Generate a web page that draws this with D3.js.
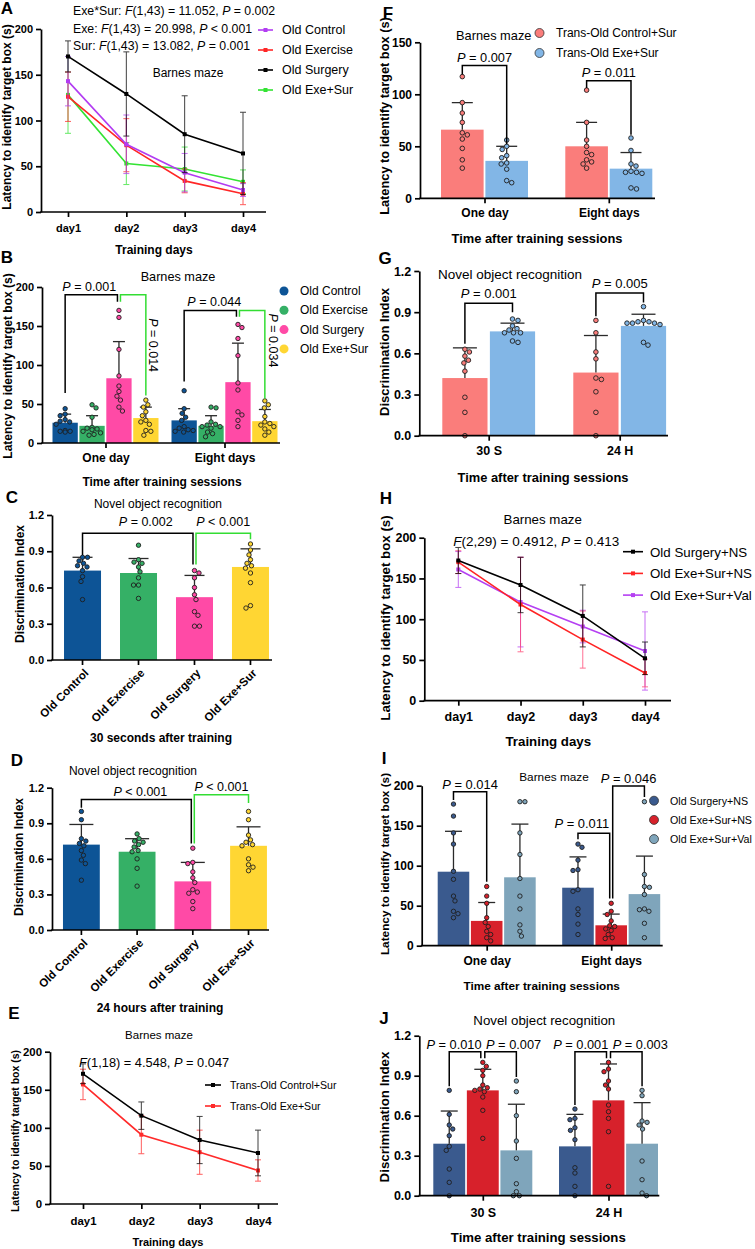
<!DOCTYPE html>
<html><head><meta charset="utf-8">
<script src="https://cdn.jsdelivr.net/npm/d3@7"></script>
<style>
body{margin:0;background:#fff;}
svg{display:block;font-family:"Liberation Sans",Arial,Helvetica,sans-serif;}
</style></head><body>
<svg id="chart" width="755" height="1249"></svg>
<script>
// ================= DATA =================
// Panel A
const A_days = ["day1","day2","day3","day4"];
const A_names = ["Old Control","Old Exercise","Old Surgery","Old Exe+Sur"];
const A_oldControl = [143, 74, 43, 24];
const A_oldControlSD = [27, 32, 21, 7];
const A_oldExercise = [126, 73, 34, 20];
const A_oldExerciseSD = [27, 29, 13, 12];
const A_oldSurgery = [170, 129, 85, 64];
const A_oldSurgerySD = [17, 46, 42, 45];
const A_oldExeSur = [128, 53, 47, 33];
const A_oldExeSurSD = [42, 23, 24, 13];
const A_yTicks = [0, 50, 100, 150, 200];
const A_stats = ["Exe*Sur: F(1,43) = 11.052, P = 0.002", "Exe: F(1,43) = 20.998, P < 0.001", "Sur: F(1,43) = 13.082, P = 0.001"];

// Panel B
const B_groups = ["One day", "Eight days"];
const B_names = ["Old Control", "Old Exercise", "Old Surgery", "Old Exe+Sur"];
const B_oldControlMean = [26, 29];
const B_oldControlSD = [11, 15];
const B_oldControlPts = [[44,37,35,30,28,27,24,16,15,15,14],[67,44,38,33,29,21,19,17,16,15,14]];
const B_oldExerciseMean = [22, 22];
const B_oldExerciseSD = [13, 13];
const B_oldExercisePts = [[49,45,33,20,19,18,17,15,13,11,10],[46,45,27,24,23,21,21,19,14,12,8]];
const B_oldSurgeryMean = [83, 78];
const B_oldSurgerySD = [47, 50];
const B_oldSurgeryPts = [[170,161,120,86,73,66,60,55,46,41],[152,148,134,112,77,68,40,36,29,21]];
const B_oldExeSurMean = [32, 28];
const B_oldExeSurSD = [14, 15];
const B_oldExeSurPts = [[55,49,46,40,35,29,27,24,16,15,10],[54,49,45,34,27,25,23,21,18,14,10]];
const B_yTicks = [0, 50, 100, 150, 200];

// Panel C (30 s after training)
const C_cats = ["Old Control", "Old Exercise", "Old Surgery", "Old Exe+Sur"];
const C_means = [0.74, 0.72, 0.52, 0.77];
const C_sd = [0.11, 0.12, 0.18, 0.15];
const C_oldControlPts = [0.85,0.85,0.82,0.80,0.78,0.77,0.74,0.69,0.65,0.50];
const C_oldExercisePts = [0.95,0.83,0.81,0.80,0.77,0.73,0.68,0.62,0.62,0.51];
const C_oldSurgeryPts = [0.74,0.72,0.68,0.60,0.54,0.50,0.40,0.37,0.28,0.28];
const C_oldExeSurPts = [0.96,0.91,0.87,0.83,0.80,0.78,0.76,0.72,0.64,0.45,0.43];
const DI_ticks = [0, 0.3, 0.6, 0.9, 1.2];

// Panel D (24 h after training)
const D_cats = ["Old Control", "Old Exercise", "Old Surgery", "Old Exe+Sur"];
const D_means = [0.72, 0.66, 0.41, 0.71];
const D_sd = [0.17, 0.11, 0.16, 0.16];
const D_oldControlPts = [1.0,0.93,0.77,0.75,0.73,0.71,0.67,0.63,0.59,0.56,0.42];
const D_oldExercisePts = [0.81,0.77,0.75,0.74,0.72,0.70,0.67,0.66,0.60,0.52,0.37];
const D_oldSurgeryPts = [0.69,0.57,0.56,0.49,0.44,0.40,0.34,0.32,0.31,0.24,0.18];
const D_oldExeSurPts = [1.0,0.93,0.80,0.76,0.74,0.72,0.71,0.60,0.55,0.53,0.50];

// Panel E
const E_days = ["day1","day2","day3","day4"];
const E_names = ["Trans-Old Control+Sur", "Trans-Old Exe+Sur"];
const E_transControl = [171, 116, 84, 67];
const E_transControlSD = [13, 18, 31, 30];
const E_transExe = [157, 91, 68, 44];
const E_transExeSD = [20, 25, 29, 14];
const E_yTicks = [0, 50, 100, 150, 200];

// Panel F
const F_groups = ["One day", "Eight days"];
const F_names = ["Trans-Old Control+Sur", "Trans-Old Exe+Sur"];
const F_controlMean = [66, 50];
const F_controlSD = [26, 23];
const F_controlPts = [[117,92,82,73,63,61,57,48,37,29],[104,73,56,50,44,42,37,35,33,29]];
const F_exeMean = [36, 28.5];
const F_exeSD = [14, 15.5];
const F_exePts = [[56,50,47,41,39,34,33,28,17,15],[58,46,33,31,26,25,25,24,10,9]];
const F_yTicks = [0, 50, 100, 150];

// Panel G
const G_groups = ["30 S", "24 H"];
const G_controlMean = [0.42, 0.46];
const G_controlSD = [0.22, 0.27];
const G_controlPts = [[0.63,0.61,0.58,0.55,0.53,0.47,0.28,0.17,0.0],[0.84,0.75,0.61,0.56,0.42,0.41,0.32,0.17,0.0]];
const G_exeMean = [0.76, 0.80];
const G_exeSD = [0.06, 0.085];
const G_exePts = [[0.85,0.84,0.80,0.78,0.77,0.75,0.75,0.75,0.69,0.68],[0.94,0.84,0.83,0.83,0.82,0.82,0.82,0.81,0.68,0.66]];

// Panel H
const H_days = ["day1","day2","day3","day4"];
const H_names = ["Old Surgery+NS", "Old Exe+Sur+NS", "Old Exe+Sur+Val"];
const H_surgeryNS = [172, 142, 104, 52];
const H_surgeryNSSD = [16, 34, 38, 20];
const H_exeSurNS = [170, 118, 75, 34];
const H_exeSurNSSD = [14, 58, 35, 17];
const H_exeSurVal = [161, 121, 91, 61];
const H_exeSurValSD = [22, 55, 20, 48];
const H_yTicks = [0, 50, 100, 150, 200];

// Panel I
const I_groups = ["One day", "Eight days"];
const I_names = ["Old Surgery+NS", "Old Exe+Sur+NS", "Old Exe+Sur+Val"];
const I_surgeryMean = [92.5, 72.5];
const I_surgerySD = [50.5, 38.5];
const I_surgeryPts = [[177,162,141,127,93,83,62,56,43,40,35],[127,123,107,95,94,70,68,46,39,27,14]];
const I_exeMean = [31, 25.5];
const I_exeSD = [23, 14];
const I_exePts = [[74,62,53,35,29,24,18,14,10,6],[53,43,39,31,25,24,21,19,14,10,9]];
const I_valMean = [85.5, 64.5];
const I_valSD = [66.5, 47.5];
const I_valPts = [[180,180,141,114,84,62,46,26,18,12],[180,89,74,73,64,46,45,43,28,10]];

// Panel J
const J_groups = ["30 S", "24 H"];
const J_surgeryMean = [0.39, 0.37];
const J_surgerySD = [0.245, 0.24];
const J_surgeryPts = [[0.79,0.61,0.53,0.50,0.45,0.37,0.34,0.20,0.10,0.0],[0.65,0.58,0.57,0.51,0.49,0.42,0.21,0.17,0.07,0.0]];
const J_exeMean = [0.79, 0.715];
const J_exeSD = [0.158, 0.273];
const J_exePts = [[1.0,0.97,0.94,0.90,0.83,0.81,0.80,0.79,0.78,0.74,0.64,0.43],[1.0,0.95,0.93,0.86,0.83,0.80,0.68,0.63,0.58,0.48,0.07]];
const J_valMean = [0.34, 0.39];
const J_valSD = [0.346, 0.308];
const J_valPts = [[0.86,0.78,0.60,0.41,0.28,0.09,0.03,0.0,0.0],[0.79,0.75,0.56,0.55,0.53,0.50,0.26,0.12,0.02,0.0]];

// ================= DRAWING =================
const svg = d3.select("#chart");
const FONT = '"Liberation Sans", Arial, Helvetica, sans-serif';
const COL = {
  blue: "#0d5496", green: "#35b066", pink: "#ff4aa6", yellow: "#ffd633",
  salmon: "#fa7d7b", sky: "#82b6e6",
  dblue: "#3a5a8e", red: "#d7212b", lblue: "#7fa5bb",
  lPurple: "#b23cf2", lRed: "#ff2626", lGreen: "#33e333"
};

function rich(t, str) {
  str.split(/(\bF(?=\()|\bP(?= [=<]))/).forEach((p, i) => {
    if (!p) return;
    const ts = t.append("tspan").text(p);
    if (i % 2 === 1) ts.attr("font-style", "italic");
  });
  return t;
}
function label(g, x, y, str, o = {}) {
  const t = g.append("text").attr("x", x).attr("y", y)
    .attr("font-size", o.size || 12)
    .attr("font-weight", o.bold ? "bold" : "normal")
    .attr("text-anchor", o.anchor || "middle")
    .attr("dominant-baseline", "central")
    .attr("font-family", FONT)
    .attr("fill", "#000");
  if (o.rotate) t.attr("transform", `rotate(${o.rotate},${x},${y})`);
  return rich(t, str);
}
function drawYAxis(g, y, x0, ticks, fmt, fs) {
  const a = g.append("g").attr("transform", `translate(${x0},0)`)
    .call(d3.axisLeft(y).tickValues(ticks).tickFormat(fmt).tickSize(5).tickSizeOuter(0).tickPadding(3));
  a.select(".domain").attr("stroke", "#000").attr("stroke-width", 1.7);
  a.selectAll(".tick line").attr("stroke", "#000").attr("stroke-width", 1.7);
  a.selectAll(".tick text").attr("font-size", fs).attr("font-weight", "bold").attr("font-family", FONT).attr("fill", "#000");
}
function drawXAxis(g, x, x0, x1, yb, fs, off) {
  g.append("line").attr("x1", x0 - 0.8).attr("x2", x1).attr("y1", yb).attr("y2", yb)
    .attr("stroke", "#000").attr("stroke-width", 1.7);
  const a = g.append("g").attr("transform", `translate(0,${yb})`)
    .call(d3.axisBottom(x).tickSize(5).tickSizeOuter(0));
  a.select(".domain").remove();
  a.selectAll(".tick line").attr("stroke", "#000").attr("stroke-width", 1.7);
  a.selectAll(".tick text").attr("font-size", fs).attr("font-weight", "bold").attr("font-family", FONT)
    .attr("fill", "#000").attr("y", off).attr("dy", null).attr("dominant-baseline", "central");
  return a;
}

function linePanel(p) {
  const g = svg.append("g");
  const x = d3.scalePoint().domain(p.days).range(p.xr);
  const y = d3.scaleLinear().domain([0, p.ymax]).range([p.yb, p.yt]);
  p.drawOrder.forEach(k => {
    const s = p.series[k];
    const eg = g.append("g").attr("stroke", s.err || s.color).attr("stroke-width", 1).attr("opacity", 0.75);
    s.m.forEach((m, i) => {
      const cx = x(p.days[i]);
      eg.append("line").attr("x1", cx).attr("x2", cx).attr("y1", y(m - s.sd[i])).attr("y2", y(m + s.sd[i]));
      [m - s.sd[i], m + s.sd[i]].forEach(v =>
        eg.append("line").attr("x1", cx - 3).attr("x2", cx + 3).attr("y1", y(v)).attr("y2", y(v)));
    });
    g.append("path").datum(s.m).attr("fill", "none").attr("stroke", s.color).attr("stroke-width", 1.6)
      .attr("d", d3.line().x((d, i) => x(p.days[i])).y(d => y(d)));
    g.selectAll(null).data(s.m).enter().append("rect")
      .attr("x", (d, i) => x(p.days[i]) - 2).attr("y", d => y(d) - 2)
      .attr("width", 4).attr("height", 4).attr("fill", s.color);
  });
  drawYAxis(g, y, p.x0, p.ticks, d3.format("d"), p.fs);
  drawXAxis(g, x, p.x0, p.x1, p.yb, p.fs, p.lo);
  // legend
  p.series.forEach((s, i) => {
    const ly = p.leg.y + i * p.leg.dy;
    g.append("line").attr("x1", p.leg.x).attr("x2", p.leg.x + p.leg.w).attr("y1", ly).attr("y2", ly)
      .attr("stroke", s.color).attr("stroke-width", 1.6);
    g.append("rect").attr("x", p.leg.x + p.leg.w / 2 - 2).attr("y", ly - 2).attr("width", 4).attr("height", 4).attr("fill", s.color);
    label(g, p.leg.tx, ly, s.name, { size: p.leg.fs, anchor: "start" });
  });
  return g;
}

function swarm(vals, y, r, maxOff) {
  const placed = [];
  const out = new Array(vals.length);
  const order = vals.map((v, i) => i).sort((a, b) => vals[b] - vals[a]);
  const d2 = (2 * r + 0.6) * (2 * r + 0.6);
  order.forEach((i, n) => {
    const py = y(vals[i]);
    const sgn = n % 2 === 0 ? 1 : -1;
    let chosen = null;
    for (let k = 0; k <= maxOff * 4; k++) {
      const off = (k % 2 === 0 ? sgn : -sgn) * Math.ceil(k / 2) * 0.5;
      if (Math.abs(off) > maxOff) continue;
      if (placed.every(q => (q.x - off) ** 2 + (q.y - py) ** 2 >= d2)) { chosen = off; break; }
    }
    if (chosen === null) chosen = 0;
    placed.push({ x: chosen, y: py });
    out[i] = chosen;
  });
  return out;
}

function barPanel(p) {
  const g = svg.append("g");
  const y = d3.scaleLinear().domain([0, p.ymax]).range([p.yb, p.yt]);
  const bars = [];
  let xs;
  if (p.groups) {
    xs = d3.scalePoint().domain(p.groups).range(p.gr);
    const sx = d3.scaleBand().domain(p.series.map(s => s.name)).range([-p.half, p.half]).paddingInner(p.pad);
    p.groups.forEach((gn, gi) => p.series.forEach((s, si) => bars.push({
      gi, si, x: xs(gn) + sx(s.name), w: sx.bandwidth(),
      m: s.mean[gi], sd: s.sd[gi], pts: s.pts[gi], color: s.color })));
  } else {
    xs = d3.scaleBand().domain(p.cats).range(p.br).paddingInner(0.339).paddingOuter(0.17);
    p.cats.forEach((c, ci) => bars.push({
      gi: ci, si: 0, x: xs(c), w: xs.bandwidth(),
      m: p.mean[ci], sd: p.sd[ci], pts: p.pts[ci], color: p.colors[ci] }));
  }
  g.selectAll(null).data(bars).enter().append("rect")
    .attr("x", d => d.x).attr("y", d => y(d.m)).attr("width", d => d.w)
    .attr("height", d => y(0) - y(d.m)).attr("fill", d => d.color);
  // error bars (upper SD)
  bars.forEach(b => {
    const cx = b.x + b.w / 2;
    g.append("line").attr("x1", cx).attr("x2", cx).attr("y1", y(b.m)).attr("y2", y(b.m + b.sd))
      .attr("stroke", "#2a2a2a").attr("stroke-width", 1.3);
    g.append("line").attr("x1", cx - p.cap / 2).attr("x2", cx + p.cap / 2).attr("y1", y(b.m + b.sd)).attr("y2", y(b.m + b.sd))
      .attr("stroke", "#2a2a2a").attr("stroke-width", 1.3);
  });
  // points
  bars.forEach(b => {
    const cx = b.x + b.w / 2;
    const offs = swarm(b.pts, y, p.r, b.w / 2 - p.r - 1);
    g.selectAll(null).data(b.pts).enter().append("circle")
      .attr("cx", (d, i) => cx + offs[i]).attr("cy", d => y(d)).attr("r", p.r)
      .attr("fill", b.color).attr("stroke", "#1e1e1e").attr("stroke-width", 0.9);
  });
  drawYAxis(g, y, p.x0, p.ticks, p.fmt, p.fs);
  const ax = drawXAxis(g, xs, p.x0, p.x1, p.yb, p.cfs, p.lo);
  if (!p.groups) {
    ax.selectAll(".tick text").attr("y", null).attr("x", null).attr("text-anchor", "end")
      .attr("transform", "translate(4,11) rotate(-45)");
  }
  // brackets
  const barAt = (gi, si) => bars.find(b => b.gi === gi && b.si === si);
  (p.brackets || []).forEach(k => {
    const A = barAt(k.a[0], k.a[1]), B = barAt(k.b[0], k.b[1]);
    const xa = A.x + A.w / 2 + (k.a[2] || 0), xb = B.x + B.w / 2 + (k.b[2] || 0);
    g.append("path").attr("fill", "none").attr("stroke", k.color || "#000").attr("stroke-width", 1.5)
      .attr("d", `M${xa},${y(k.l1)}V${y(k.top)}H${xb}V${y(k.l2)}`);
    if (k.vertical) {
      label(g, xb + k.vx, (y(k.top) + y(k.l2)) / 2 + (k.dy || 0), k.text, { size: p.sfs, rotate: 90 });
    } else {
      label(g, (xa + xb) / 2 + (k.dx || 0), y(k.top) - p.sgap + (k.dy || 0), k.text, { size: p.sfs });
    }
  });
  return g;
}

function legendDots(g, items, x, y0, dy, tx, fs, r, stroke) {
  items.forEach((it, i) => {
    g.append("circle").attr("cx", x).attr("cy", y0 + i * dy).attr("r", r).attr("fill", it.color)
      .attr("stroke", stroke ? "#333" : "none").attr("stroke-width", 0.8);
    label(g, tx, y0 + i * dy, it.name, { size: fs, anchor: "start" });
  });
}

// ---------- Panel A ----------
const gA = linePanel({
  days: A_days, xr: [68, 243], x0: 41, x1: 266, yb: 212, yt: 29, ymax: 200, ticks: A_yTicks, fs: 11, lo: 16,
  series: [
    { name: A_names[0], color: COL.lPurple, m: A_oldControl, sd: A_oldControlSD },
    { name: A_names[1], color: COL.lRed, m: A_oldExercise, sd: A_oldExerciseSD },
    { name: A_names[2], color: "#000", m: A_oldSurgery, sd: A_oldSurgerySD },
    { name: A_names[3], color: COL.lGreen, m: A_oldExeSur, sd: A_oldExeSurSD }
  ],
  drawOrder: [3, 1, 0, 2],
  leg: { x: 258, w: 15, y: 30, dy: 20, tx: 282, fs: 12.5 }
});
A_stats.forEach((s, i) => label(gA, 73, 11 + i * 17.5, s, { size: 12.3, anchor: "start" }));
label(gA, 188, 73, "Barnes maze", { size: 12 });
label(gA, 154, 250, "Training days", { size: 12, bold: true });
label(gA, 7, 117, "Latency to identify target box (s)", { size: 12, bold: true, rotate: -90 });
label(gA, 7, 8, "A", { size: 17, bold: true });

// ---------- Panel B ----------
const bSeries = [
  { name: B_names[0], color: COL.blue, mean: B_oldControlMean, sd: B_oldControlSD, pts: B_oldControlPts },
  { name: B_names[1], color: COL.green, mean: B_oldExerciseMean, sd: B_oldExerciseSD, pts: B_oldExercisePts },
  { name: B_names[2], color: COL.pink, mean: B_oldSurgeryMean, sd: B_oldSurgerySD, pts: B_oldSurgeryPts },
  { name: B_names[3], color: COL.yellow, mean: B_oldExeSurMean, sd: B_oldExeSurSD, pts: B_oldExeSurPts }
];
const gB = barPanel({
  groups: B_groups, series: bSeries, gr: [105.5, 224.5], half: 53, pad: 0.06,
  x0: 42, x1: 280, yb: 443, yt: 287, ymax: 200, ticks: B_yTicks, fmt: d3.format("d"), fs: 11, cfs: 12, lo: 15,
  cap: 12, r: 2.2, sfs: 12.5, sgap: 8,
  brackets: [
    { a: [0, 0], b: [0, 2, -1.5], top: 190, l1: 64, l2: 181, text: "P = 0.001", dx: -2 },
    { a: [0, 2, 1.5], b: [0, 3], top: 190, l1: 181, l2: 61, text: "P = 0.014", color: "#33dd33", vertical: true, vx: 7 },
    { a: [1, 0], b: [1, 2, -1.5], top: 170, l1: 79, l2: 162, text: "P = 0.044", dx: 4 },
    { a: [1, 2, 1.5], b: [1, 3], top: 170, l1: 162, l2: 57, text: "P = 0.034", color: "#33dd33", vertical: true, vx: 8, dy: -14 }
  ]
});
legendDots(gB, bSeries, 284, 291, 19.3, 300, 12, 4.5, false);
label(gB, 178, 277, "Barnes maze", { size: 12.7 });
label(gB, 162, 481.7, "Time after training sessions", { size: 12, bold: true });
label(gB, 8, 366, "Latency to identify target box (s)", { size: 12, bold: true, rotate: -90 });
label(gB, 7, 257, "B", { size: 17, bold: true });

// ---------- Panel C ----------
const gC = barPanel({
  cats: C_cats, mean: C_means, sd: C_sd, pts: [C_oldControlPts, C_oldExercisePts, C_oldSurgeryPts, C_oldExeSurPts],
  colors: [COL.blue, COL.green, COL.pink, COL.yellow], br: [54.5, 278.5],
  x0: 52, x1: 272, yb: 660, yt: 515, ymax: 1.2, ticks: DI_ticks, fmt: d3.format(".1f"), fs: 11, cfs: 11.5, lo: 12,
  cap: 20, r: 2.2, sfs: 12.5, sgap: 11,
  brackets: [
    { a: [0, 0], b: [2, 0, -1.5], top: 1.05, l1: 0.87, l2: 0.79, text: "P = 0.002", dx: 8 },
    { a: [2, 0, 1.5], b: [3, 0], top: 1.05, l1: 0.79, l2: 1.0, text: "P < 0.001", color: "#33dd33" }
  ]
});
label(gC, 158, 504, "Novel object recognition", { size: 12 });
label(gC, 161, 738, "30 seconds after training", { size: 12, bold: true });
label(gC, 20, 584, "Discrimination Index", { size: 12, bold: true, rotate: -90 });
label(gC, 12, 497, "C", { size: 17, bold: true });

// ---------- Panel D ----------
const gD = barPanel({
  cats: D_cats, mean: D_means, sd: D_sd, pts: [D_oldControlPts, D_oldExercisePts, D_oldSurgeryPts, D_oldExeSurPts],
  colors: [COL.blue, COL.green, COL.pink, COL.yellow], br: [53.5, 276.4],
  x0: 52, x1: 269, yb: 930, yt: 787.7, ymax: 1.2, ticks: DI_ticks, fmt: d3.format(".1f"), fs: 11, cfs: 11.5, lo: 12,
  cap: 24, r: 2.2, sfs: 12.5, sgap: 8,
  brackets: [
    { a: [0, 0], b: [2, 0, -1.5], top: 1.1, l1: 1.03, l2: 0.73, text: "P < 0.001", dx: 4 },
    { a: [2, 0, 1.5], b: [3, 0], top: 1.14, l1: 0.73, l2: 1.07, text: "P < 0.001", color: "#33dd33" }
  ]
});
label(gD, 133, 771, "Novel object recognition", { size: 12 });
label(gD, 160, 1008, "24 hours after training", { size: 12, bold: true });
label(gD, 19, 857, "Discrimination Index", { size: 12, bold: true, rotate: -90 });
label(gD, 17, 760, "D", { size: 17, bold: true });

// ---------- Panel E ----------
const gE = linePanel({
  days: E_days, xr: [83, 258], x0: 50, x1: 278, yb: 1204, yt: 1051.7, ymax: 200, ticks: E_yTicks, fs: 11.4, lo: 16.7,
  series: [
    { name: E_names[0], color: "#000", m: E_transControl, sd: E_transControlSD },
    { name: E_names[1], color: "#ff2a2a", m: E_transExe, sd: E_transExeSD }
  ],
  drawOrder: [1, 0],
  leg: { x: 205, w: 16, y: 1085, dy: 21, tx: 230, fs: 10.6 }
});
label(gE, 79, 1061.7, "F(1,18) = 4.548, P = 0.047", { size: 12.8, anchor: "start" });
label(gE, 159, 1035, "Barnes maze", { size: 11.5 });
label(gE, 168, 1241.7, "Training days", { size: 11, bold: true });
label(gE, 15, 1131, "Latency to identify target box (s)", { size: 10.5, bold: true, rotate: -90 });
label(gE, 14, 1013, "E", { size: 17, bold: true });

// ---------- Panel F ----------
const fSeries = [
  { name: F_names[0], color: COL.salmon, mean: F_controlMean, sd: F_controlSD, pts: F_controlPts },
  { name: F_names[1], color: COL.sky, mean: F_exeMean, sd: F_exeSD, pts: F_exePts }
];
const gF = barPanel({
  groups: F_groups, series: fSeries, gr: [484.5, 608.8], half: 43.5, pad: 0.04,
  x0: 420, x1: 655, yb: 198.3, yt: 42.3, ymax: 150, ticks: F_yTicks, fmt: d3.format("d"), fs: 12, cfs: 12, lo: 14.5,
  cap: 21, r: 2.3, sfs: 12.8, sgap: 9,
  brackets: [
    { a: [0, 0], b: [0, 1], top: 127.6, l1: 119, l2: 52, text: "P = 0.007" },
    { a: [1, 0], b: [1, 1], top: 113, l1: 106, l2: 61, text: "P = 0.011" }
  ]
});
label(gF, 456, 35, "Barnes maze", { size: 12.8, anchor: "start" });
legendDots(gF, fSeries, 539.5, 33, 20, 556, 12, 4.5, true);
label(gF, 537, 237.7, "Time after training sessions", { size: 12.9, bold: true });
label(gF, 384, 116, "Latency to identify target box (s)", { size: 12.8, bold: true, rotate: -90 });
label(gF, 388, 13, "F", { size: 17, bold: true });

// ---------- Panel G ----------
const gG = barPanel({
  groups: G_groups, series: [
    { name: "c", color: COL.salmon, mean: G_controlMean, sd: G_controlSD, pts: G_controlPts },
    { name: "e", color: COL.sky, mean: G_exeMean, sd: G_exeSD, pts: G_exePts }
  ], gr: [488.7, 619.7], half: 46.4, pad: 0.05,
  x0: 419.3, x1: 668, yb: 435.7, yt: 271, ymax: 1.2, ticks: DI_ticks, fmt: d3.format(".1f"), fs: 12.5, cfs: 12.5, lo: 15.5,
  cap: 24, r: 2.3, sfs: 13, sgap: 10,
  brackets: [
    { a: [0, 0], b: [0, 1], top: 0.965, l1: 0.67, l2: 0.9, text: "P = 0.001" },
    { a: [1, 0], b: [1, 1], top: 1.04, l1: 0.87, l2: 0.97, text: "P = 0.005" }
  ]
});
label(gG, 438, 274.3, "Novel object recognition", { size: 13.5, anchor: "start" });
label(gG, 543, 477.3, "Time after training sessions", { size: 12.9, bold: true });
label(gG, 384, 352, "Discrimination Index", { size: 13, bold: true, rotate: -90 });
label(gG, 385, 258, "G", { size: 17, bold: true });

// ---------- Panel H ----------
const gH = linePanel({
  days: H_days, xr: [458.3, 645], x0: 424.3, x1: 671, yb: 700.7, yt: 537.7, ymax: 200, ticks: H_yTicks, fs: 12.5, lo: 16,
  series: [
    { name: H_names[0], color: "#000", m: H_surgeryNS, sd: H_surgeryNSSD },
    { name: H_names[1], color: "#ff2424", err: "#ff4070", m: H_exeSurNS, sd: H_exeSurNSSD },
    { name: H_names[2], color: "#b540f2", m: H_exeSurVal, sd: H_exeSurValSD }
  ],
  drawOrder: [2, 1, 0],
  leg: { x: 623, w: 20, y: 551.7, dy: 21.7, tx: 650, fs: 13.3 }
});
label(gH, 542.7, 519.3, "Barnes maze", { size: 13.3 });
label(gH, 453.3, 540.7, "F(2,29) = 0.4912, P = 0.413", { size: 13.5, anchor: "start" });
label(gH, 548.3, 740.7, "Training days", { size: 13.3, bold: true });
label(gH, 385, 618, "Latency to identify target box (s)", { size: 13.3, bold: true, rotate: -90 });
label(gH, 386, 498, "H", { size: 17, bold: true });

// ---------- Panel I ----------
const iSeries = [
  { name: I_names[0], color: COL.dblue, mean: I_surgeryMean, sd: I_surgerySD, pts: I_surgeryPts },
  { name: I_names[1], color: COL.red, mean: I_exeMean, sd: I_exeSD, pts: I_exePts },
  { name: I_names[2], color: COL.lblue, mean: I_valMean, sd: I_valSD, pts: I_valPts }
];
const gI = barPanel({
  groups: I_groups, series: iSeries, gr: [486.7, 611.2], half: 49, pad: 0.05,
  x0: 421.7, x1: 662.7, yb: 945.7, yt: 785.7, ymax: 200, ticks: [0, 50, 100, 150, 200], fmt: d3.format("d"), fs: 12, cfs: 12, lo: 15.5,
  cap: 17, r: 2.2, sfs: 12.9, sgap: 8,
  brackets: [
    { a: [0, 0], b: [0, 1], top: 192.5, l1: 182, l2: 80, text: "P = 0.014" },
    { a: [1, 0], b: [1, 1, -1.5], top: 140.5, l1: 133, l2: 59, text: "P = 0.011", dx: -12, dy: -2 },
    { a: [1, 1, 1.5], b: [1, 2], top: 199.6, l1: 59, l2: 186, text: "P = 0.046" }
  ]
});
label(gI, 554, 777.3, "Barnes maze", { size: 11.8 });
legendDots(gI, iSeries, 654, 800.7, 19.2, 670, 10.7, 4.5, true);
label(gI, 541.7, 985.7, "Time after training sessions", { size: 11.8, bold: true });
label(gI, 385, 864, "Latency to identify target box (s)", { size: 11.8, bold: true, rotate: -90 });
label(gI, 384, 758, "I", { size: 17, bold: true });

// ---------- Panel J ----------
const gJ = barPanel({
  groups: J_groups, series: [
    { name: "s", color: COL.dblue, mean: J_surgeryMean, sd: J_surgerySD, pts: J_surgeryPts },
    { name: "e", color: COL.red, mean: J_exeMean, sd: J_exeSD, pts: J_exePts },
    { name: "v", color: COL.lblue, mean: J_valMean, sd: J_valSD, pts: J_valPts }
  ], gr: [482.8, 608.5], half: 49.5, pad: 0.05,
  x0: 419.3, x1: 659.3, yb: 1195.7, yt: 1035.7, ymax: 1.2, ticks: DI_ticks, fmt: d3.format(".1f"), fs: 12.5, cfs: 12.5, lo: 17,
  cap: 17, r: 2.2, sfs: 12.8, sgap: 7.7,
  brackets: [
    { a: [0, 0], b: [0, 1, -2], top: 1.08, l1: 0.82, l2: 1.03, text: "P = 0.010", dx: -11 },
    { a: [0, 1, 2], b: [0, 2], top: 1.08, l1: 1.03, l2: 0.89, text: "P = 0.007", dx: 13 },
    { a: [1, 0], b: [1, 1, -2], top: 1.08, l1: 0.68, l2: 1.03, text: "P = 0.001", dx: -10 },
    { a: [1, 1, 2], b: [1, 2], top: 1.08, l1: 1.03, l2: 0.82, text: "P = 0.003", dx: 14 }
  ]
});
label(gJ, 544.3, 1020, "Novel object recognition", { size: 13.3 });
label(gJ, 538.3, 1236.7, "Time after training sessions", { size: 13.2, bold: true });
label(gJ, 384, 1117, "Discrimination Index", { size: 13.3, bold: true, rotate: -90 });
label(gJ, 384, 1018, "J", { size: 17, bold: true });
</script>
</body></html>
